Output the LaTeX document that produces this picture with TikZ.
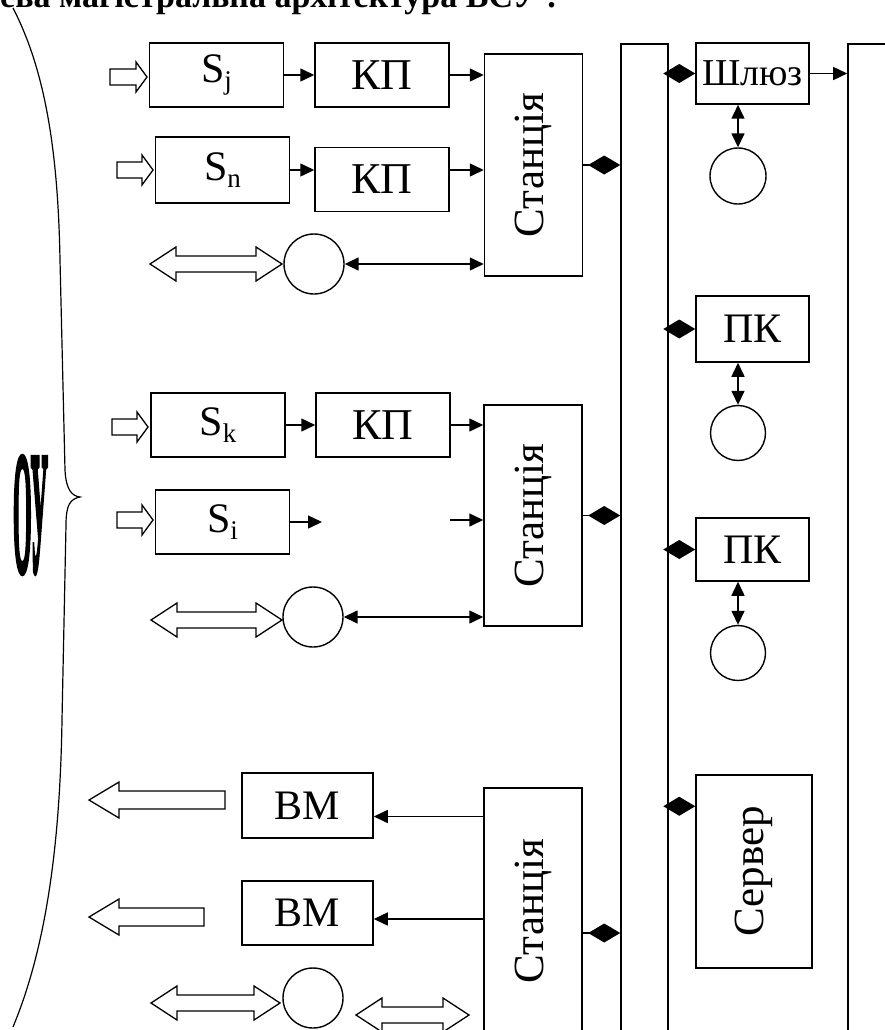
\documentclass[tikz,border=0pt]{standalone}
\usepackage{fontspec}
\setmainfont{Liberation Serif}
\newfontfamily\heavyfont[FakeBold=4]{Liberation Serif Bold}
\usetikzlibrary{calc,arrows.meta}

\newcommand{\sub}[1]{\raisebox{-7pt}{\fontsize{27}{29}\selectfont #1}}

\begin{document}
\begin{tikzpicture}[x=1pt, y=-1pt, line join=miter, font=\fontsize{42}{46}\selectfont,
	box/.style={draw, line width=1.5pt, inner sep=0pt},
	sbox/.style={box, minimum width=134pt, minimum height=64pt},
	stbox/.style={box, minimum width=98pt, font=\fontsize{43}{46}\selectfont},
	circ/.style={draw, circle, line width=1.4pt, minimum size=60pt, inner sep=0pt},
	bus/.style={draw, line width=1.6pt, inner sep=0pt},
	flow/.style={line width=1.5pt, -{Triangle[length=14pt,width=13pt]}},
	twoway/.style={line width=1.5pt, {Triangle[length=14pt,width=13pt]}-{Triangle[length=14pt,width=13pt]}},
	tap/.style={line width=1.5pt, -{Diamond[length=32pt,width=19pt]}},
	hollow/.style={draw, line width=1.3pt, fill=white},
	pics/fatr/.style={code={\draw[hollow] (0,-8) -- ({#1-11},-8) -- ({#1-11},-15) -- (#1,0) -- ({#1-11},15) -- ({#1-11},8) -- (0,8) -- cycle;}},
	pics/fatl/.style={code={\draw[hollow] (0,0) -- (30,-18) -- (30,-9) -- (#1,-9) -- (#1,9) -- (30,9) -- (30,18) -- cycle;}},
	pics/fatlr/.style={code={\draw[hollow] (0,0) -- (26,-17) -- (26,-8) -- ({#1-26},-8) -- ({#1-26},-17) -- (#1,0) -- ({#1-26},17) -- ({#1-26},8) -- (26,8) -- (26,17) -- cycle;}}]
	\useasboundingbox (0,0) rectangle (885,1030);
	% Заголовок (обрізаний)
	\node[anchor=base west, inner sep=0pt, font=\bfseries\fontsize{34}{36}\selectfont] (title) at (0,8) {ева магістральна архітектура ВСУ :};
	% Об'єкт управління
	\draw[line width=1.2pt] (13,8) .. controls (45,70) and (58,150) .. (60,260) -- (65,470) .. controls (66,490) and (72,496) .. (80,497)
		.. controls (70,499) and (66,505) .. (66,525) -- (62,720) .. controls (60,850) and (45,950) .. (13,1027);
	\node[inner sep=0pt] (ou) at (30.5,515) {\resizebox{35pt}{114pt}{\heavyfont ОУ}};
	% Шини
	\node[bus, minimum width=47pt, minimum height=996pt] (bus1) at (644.5,542) {};
	\node[bus, minimum width=52pt, minimum height=996pt] (bus2) at (874,542) {};
	% Станція 1
	\node[sbox] (sj) at (216.5,75) {S\sub{j}};
	\node[sbox, font=\fontsize{44}{48}\selectfont] (kp1) at (382,75) {КП};
	\node[sbox, minimum height=66pt] (sn) at (222.5,170) {S\sub{n}};
	\node[sbox, font=\fontsize{44}{48}\selectfont] (kp2) at (382,179.5) {КП};
	\node[circ] (c1) at (314,264) {};
	\node[stbox, minimum height=222pt] (st1) at (533.5,165) {\rotatebox{90}{Станція}};
	\pic at (110,77) {fatr=37};
	\pic at (117,170) {fatr=36};
	\pic at (150,264) {fatlr=132};
	\draw[flow] (sj) -- (kp1);
	\draw[flow] (kp1) -- (kp1 -| st1.west);
	\draw[flow] (sn.east) -- (sn.east -| kp2.west);
	\draw[flow] (kp2.east |- sn.east) -- (sn.east -| st1.west);
	\draw[twoway] (c1) -- (c1 -| st1.west);
	\draw[tap] (st1) -- (st1 -| bus1.west);
	% Станція 2
	\node[sbox] (sk) at (218,425) {S\sub{k}};
	\node[sbox, font=\fontsize{44}{48}\selectfont] (kp3) at (383,425) {КП};
	\node[sbox] (si) at (222.5,522) {S\sub{i}};
	\node[circ] (c2) at (313,617) {};
	\node[stbox, minimum height=221pt] (st2) at (533,515.5) {\rotatebox{90}{Станція}};
	\coordinate (si-out) at (322,522);
	\coordinate (si-in) at (450,520);
	\pic at (112,427) {fatr=36};
	\pic at (117,520) {fatr=36};
	\pic at (151,620) {fatlr=131};
	\draw[flow] (sk) -- (kp3);
	\draw[flow] (kp3) -- (kp3 -| st2.west);
	\draw[flow] (si) -- (si-out);
	\draw[flow] (si-in) -- (si-in -| st2.west);
	\draw[twoway] (c2) -- (c2 -| st2.west);
	\draw[tap] (st2) -- (st2 -| bus1.west);
	% Станція 3
	\node[box, minimum width=131pt, minimum height=65pt] (bm1) at (307.5,805.5) {ВМ};
	\node[box, minimum width=131pt, minimum height=64pt] (bm2) at (307.5,913) {ВМ};
	\node[circ] (c3) at (313,998) {};
	\node[stbox, minimum height=246pt] (st3) at (533,911) {\rotatebox{90}{Станція}};
	\coordinate (bm1-in) at ($(bm1.east)+(0,11)$);
	\coordinate (bm2-in) at ($(bm2.east)+(0,6)$);
	\coordinate (st3-out) at ($(st3.east)+(0,22)$);
	\pic at (89,800) {fatl=136};
	\pic at (89,917) {fatl=115};
	\pic at (151,1003) {fatlr=129};
	\pic at (356,1015) {fatlr=113};
	\draw[flow] (bm1-in -| st3.west) -- (bm1-in);
	\draw[flow] (bm2-in -| st3.west) -- (bm2-in);
	\draw[tap] (st3-out) -- (st3-out -| bus1.west);
	% Верхній рівень
	\node[box, minimum width=113pt, minimum height=61pt, font=\fontsize{38}{42}\selectfont] (gate) at (752.5,73.5) {Шлюз};
	\node[box, minimum width=113pt, minimum height=66pt] (pk1) at (752.5,329) {ПК};
	\node[box, minimum width=113pt, minimum height=63pt] (pk2) at (752.5,549.5) {ПК};
	\node[box, minimum width=116pt, minimum height=193pt, font=\fontsize{43}{46}\selectfont] (srv) at (754,871.5) {\rotatebox{90}{Сервер}};
	\node[circ, minimum size=56pt] (rc1) at (738,176) {};
	\node[circ, minimum size=55pt] (rc2) at (738,433) {};
	\node[circ, minimum size=55pt] (rc3) at (738,653) {};
	\coordinate (srv-in) at ($(srv.north west)+(0,32)$);
	\draw[tap] (gate -| bus1.east) -- (gate.west);
	\draw[flow] (gate) -- (gate -| bus2.west);
	\draw[twoway] (rc1) -- (rc1 |- gate.south);
	\draw[tap] (pk1 -| bus1.east) -- (pk1.west);
	\draw[twoway] (rc2) -- (rc2 |- pk1.south);
	\draw[tap] (pk2 -| bus1.east) -- (pk2.west);
	\draw[twoway] (rc3) -- (rc3 |- pk2.south);
	\draw[tap] (srv-in -| bus1.east) -- (srv-in);
\end{tikzpicture}
\end{document}
